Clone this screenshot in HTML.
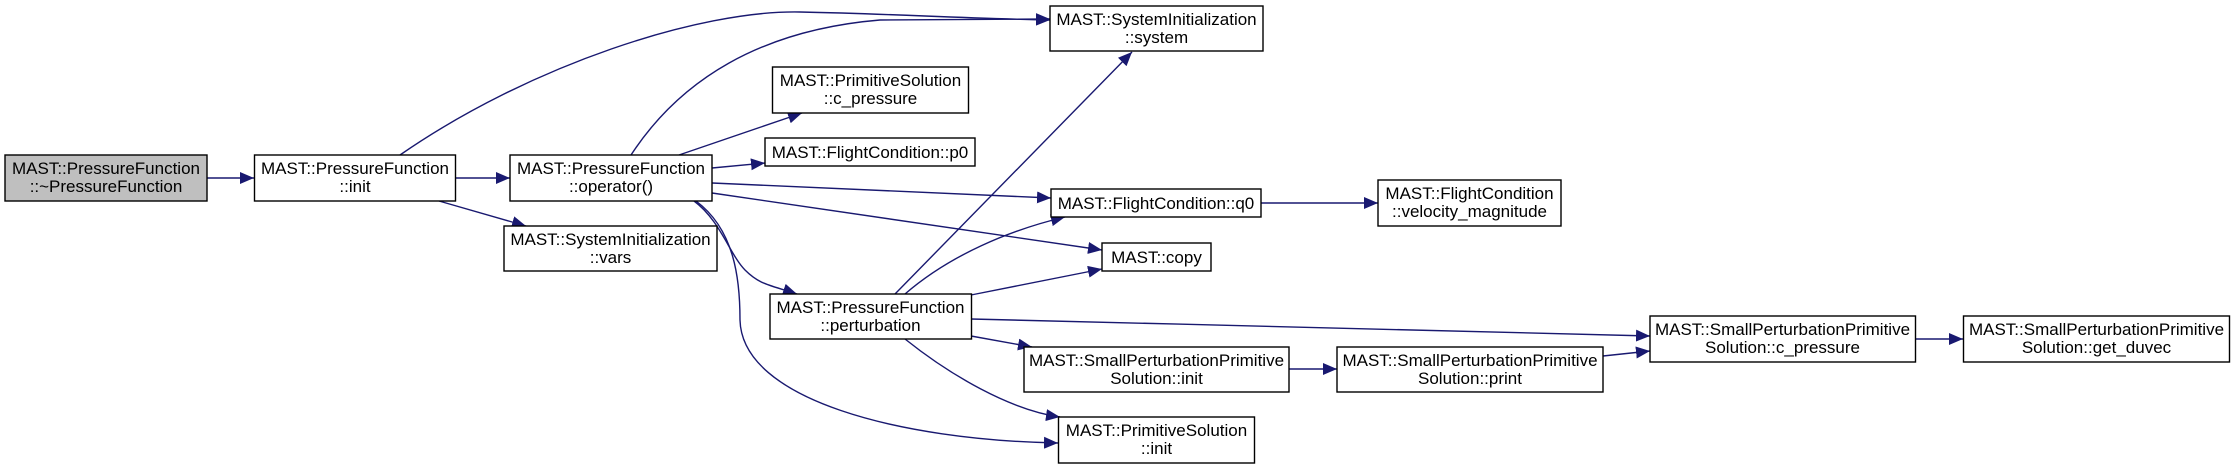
<!DOCTYPE html>
<html><head><meta charset="utf-8"><style>
html,body{margin:0;padding:0;background:#fff;}
svg{display:block;}
text{font-family:"Liberation Sans",sans-serif;font-size:17px;fill:#000;}
</style></head><body>
<svg width="2235" height="469" viewBox="0 0 2235 469" xmlns="http://www.w3.org/2000/svg">
<defs>
<marker id="a" markerUnits="userSpaceOnUse" markerWidth="16" markerHeight="12" refX="14" refY="6" orient="auto">
<path d="M0,0 L14,6 L0,12 Z" fill="#191970"/>
</marker>
</defs>
<g fill="none" stroke="#191970" stroke-width="1.4" marker-end="url(#a)">
<path d="M207,178 L254,178"/>
<path d="M456,178 L510,178"/>
<path d="M439,201 L526,226"/>
<path d="M400,155 C530,65 700,10 800,12 S950,18 1050,20"/>
<path d="M631,155 C680,80 760,30 880,20 L1050,19"/>
<path d="M679,155 L802,113"/>
<path d="M712,168 L765,163"/>
<path d="M712,183 L1051,198"/>
<path d="M712,193 L1102,250"/>
<path d="M694,201 C720,220 730,255 745,270 S770,285 797,294"/>
<path d="M696,201 C735,230 740,280 740,320 C742,400 900,440 1058,443"/>
<path d="M895,294 L1132,52"/>
<path d="M905,294 C950,255 1010,230 1065,217"/>
<path d="M971,295 L1102,269"/>
<path d="M971,319 C1200,325 1450,330 1650,336"/>
<path d="M971,336 L1032,347"/>
<path d="M905,339 C950,375 1010,410 1060,417"/>
<path d="M1261,203 L1378,203"/>
<path d="M1289,369 L1337,369"/>
<path d="M1603,356 L1650,351"/>
<path d="M1915,339 L1963,339"/>
</g>
<g stroke="#000" stroke-width="1.4" fill="#fff">
<rect x="5" y="155" width="202" height="46" fill="#bfbfbf"/>
<rect x="254.5" y="155" width="201" height="46"/>
<rect x="510" y="155" width="202" height="46"/>
<rect x="504" y="226" width="213" height="45"/>
<rect x="1050" y="6" width="213" height="45"/>
<rect x="772.5" y="67" width="196" height="46"/>
<rect x="765" y="138" width="210" height="28"/>
<rect x="1051" y="189" width="210" height="28"/>
<rect x="1378" y="180" width="183" height="46"/>
<rect x="1102" y="243" width="109" height="28"/>
<rect x="770" y="294" width="201.5" height="45"/>
<rect x="1024" y="347" width="265" height="45"/>
<rect x="1337" y="347" width="266" height="45"/>
<rect x="1058.5" y="417" width="196" height="46"/>
<rect x="1650" y="316" width="265.5" height="46"/>
<rect x="1963.5" y="316" width="266" height="46"/>
</g>
<g text-anchor="middle">
<text x="106" y="174">MAST::PressureFunction</text><text x="106" y="192">::~PressureFunction</text>
<text x="355" y="174">MAST::PressureFunction</text><text x="355" y="192">::init</text>
<text x="611" y="174">MAST::PressureFunction</text><text x="611" y="192">::operator()</text>
<text x="610.5" y="245">MAST::SystemInitialization</text><text x="610.5" y="263">::vars</text>
<text x="1156.5" y="25">MAST::SystemInitialization</text><text x="1156.5" y="43">::system</text>
<text x="870.5" y="86">MAST::PrimitiveSolution</text><text x="870.5" y="104">::c_pressure</text>
<text x="870" y="158">MAST::FlightCondition::p0</text>
<text x="1156" y="209">MAST::FlightCondition::q0</text>
<text x="1469.5" y="199">MAST::FlightCondition</text><text x="1469.5" y="217">::velocity_magnitude</text>
<text x="1156.5" y="263">MAST::copy</text>
<text x="870.5" y="313">MAST::PressureFunction</text><text x="870.5" y="331">::perturbation</text>
<text x="1156.5" y="366">MAST::SmallPerturbationPrimitive</text><text x="1156.5" y="384">Solution::init</text>
<text x="1470" y="366">MAST::SmallPerturbationPrimitive</text><text x="1470" y="384">Solution::print</text>
<text x="1156.5" y="436">MAST::PrimitiveSolution</text><text x="1156.5" y="454">::init</text>
<text x="1782.5" y="335">MAST::SmallPerturbationPrimitive</text><text x="1782.5" y="353">Solution::c_pressure</text>
<text x="2096.5" y="335">MAST::SmallPerturbationPrimitive</text><text x="2096.5" y="353">Solution::get_duvec</text>
</g>
</svg>
</body></html>
